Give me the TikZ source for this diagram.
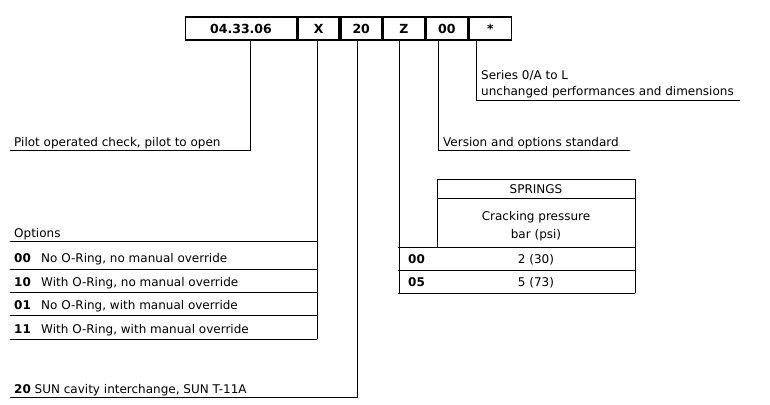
\documentclass[tikz,border=0pt]{standalone}
\usepackage{fontspec}
\setmainfont{DejaVu Sans}
\usetikzlibrary{positioning}
\tikzset{
  codebox/.style={draw, line width=1.6pt, minimum height=23pt, inner sep=0pt, font=\fontsize{12.5}{14}\selectfont\bfseries},
  lbl/.style={anchor=base west, inner sep=0pt},
  ctr/.style={anchor=base, inner sep=0pt},
  rule/.style={line width=0.7pt},
  bnum/.style={lbl, font=\fontsize{12}{14}\selectfont\bfseries},
}
\begin{document}
\begin{tikzpicture}[x=1pt,y=-1pt,font=\fontsize{12}{14}\selectfont]
    \useasboundingbox (0,0) rectangle (770,404);

    % code boxes
    \node[codebox, minimum width=111pt] (base) at (241,28.5) {04.33.06};
    \node[codebox, minimum width=41pt, right=0pt of base] (opt) {X};
    \node[codebox, minimum width=41pt, right=0pt of opt] (cav) {20};
    \node[codebox, minimum width=41pt, right=0pt of cav] (spr) {Z};
    \node[codebox, minimum width=42pt, right=0pt of spr] (ver) {00};
    \node[codebox, minimum width=42pt, right=0pt of ver] (ser) {*};

    % series
    \node[lbl] (sert1) at (481,79) {Series 0/A to L};
    \node[lbl] (sert2) at (481,95) {unchanged performances and dimensions};
    \coordinate (serend) at (740,100);
    \draw[rule] (ser.south -| 476,0) |- (serend);

    % pilot
    \node[lbl] (pil) at (14,146) {Pilot operated check, pilot to open};
    \coordinate (pilend) at (10,150);
    \draw[rule] (base.south -| 250,0) |- (pilend);

    % version
    \node[lbl] (vert) at (443,146) {Version and options standard};
    \coordinate (verend) at (630,150);
    \draw[rule] (ver.south -| 438,0) |- (verend);

    % springs table
    \draw[rule] (437,247) |- (635,179) -- (635,293);
    \draw[rule] (437,198) -- (635,198);
    \foreach \y in {247,270,293} {
        \draw[rule] (398,\y) -- (635,\y);
    }
    \draw[rule] (spr.south -| 399,0) -- (399,293);
    \node[ctr] (sprt) at (536,193) {SPRINGS};
    \node[ctr] (crt1) at (536,220) {Cracking pressure};
    \node[ctr] (crt2) at (536,238) {bar (psi)};
    \node[bnum] (s00) at (408,263) {00};
    \node[ctr] (s00v) at (536,263) {2 (30)};
    \node[bnum] (s05) at (408,286) {05};
    \node[ctr] (s05v) at (536,286) {5 (73)};

    % options
    \node[lbl] (optt) at (14,237) {Options};
    \foreach \y in {241,269,292,315,339} {
        \draw[rule] (10,\y) -- (317,\y);
    }
    \draw[rule] (opt.south -| 317,0) -- (317,339);
    \foreach \c/\t [count=\i] in {00/No O-Ring{,} no manual override,
                                 10/With O-Ring{,} no manual override,
                                 01/No O-Ring{,} with manual override,
                                 11/With O-Ring{,} with manual override} {
        \node[bnum] (oc\i) at (14,241+23.5*\i-2) {\c};
        \node[lbl] (ot\i) at (41,241+23.5*\i-2) {\t};
    }

    % cavity
    \node[lbl] (cavt) at (14,393) {\textbf{20} SUN cavity interchange, SUN T-11A};
    \coordinate (cavend) at (10,397);
    \draw[rule] (cav.south -| 357,0) |- (cavend);
\end{tikzpicture}
\end{document}
